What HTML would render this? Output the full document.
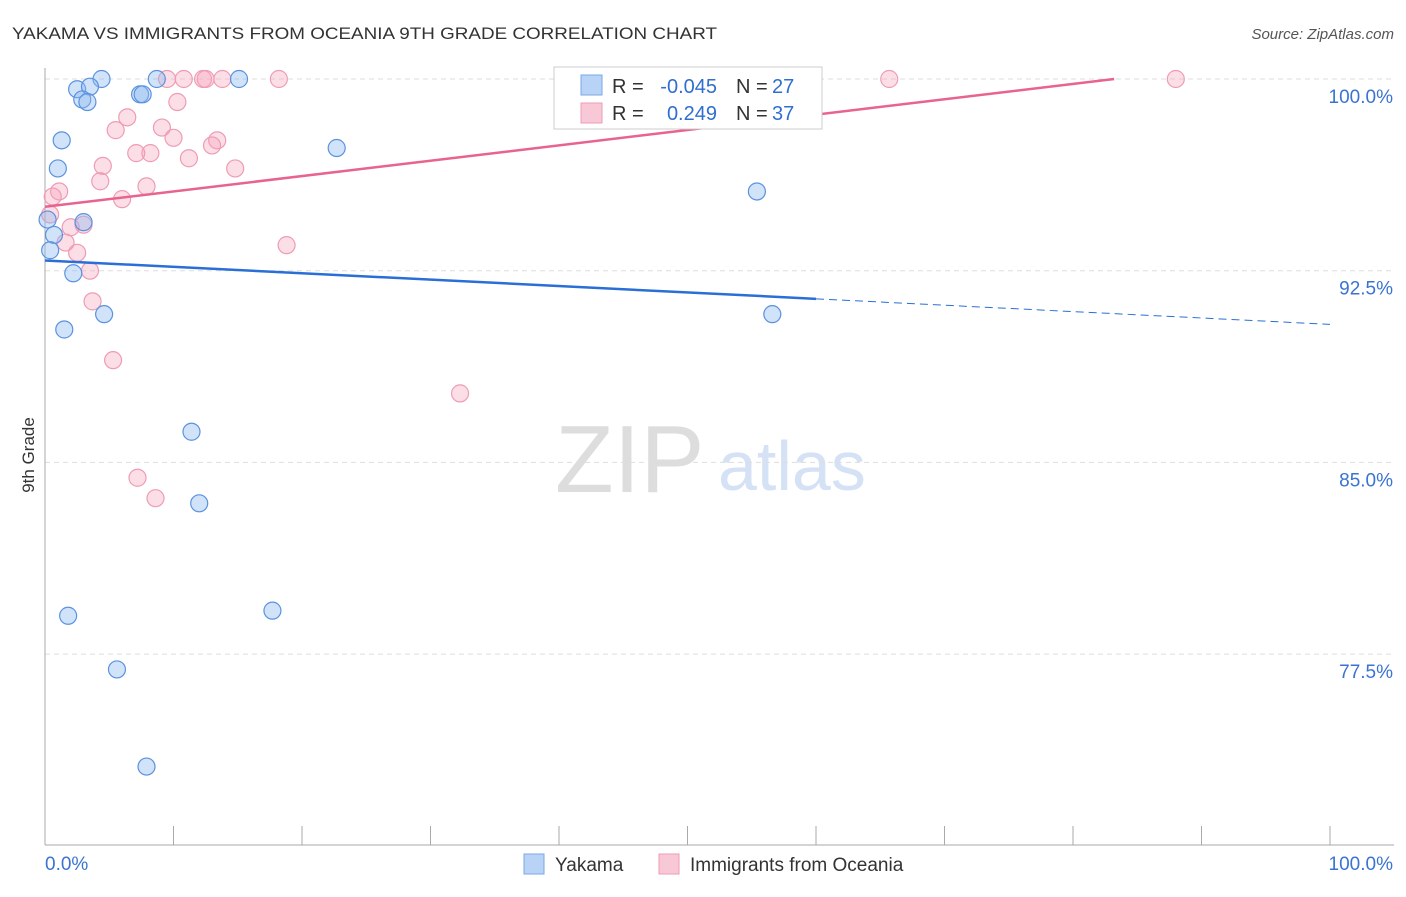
<!DOCTYPE html>
<html><head><meta charset="utf-8"><style>
body{margin:0;background:#fff;font-family:"Liberation Sans",sans-serif;}
svg text{font-family:"Liberation Sans",sans-serif;}
</style></head><body>
<svg id="c" width="1406" height="892" xmlns="http://www.w3.org/2000/svg">
<text x="12" y="39" font-size="17" fill="#333" textLength="705" lengthAdjust="spacingAndGlyphs">YAKAMA VS IMMIGRANTS FROM OCEANIA 9TH GRADE CORRELATION CHART</text>
<text x="1394" y="39" font-size="15" fill="#555" text-anchor="end" font-style="italic">Source: ZipAtlas.com</text>
<text x="34" y="455" font-size="17" fill="#333" transform="rotate(-90 34 455)" text-anchor="middle">9th Grade</text>
<text x="555" y="492" font-size="96" fill="#ddd" font-family="Liberation Serif">ZIP</text>
<text x="718" y="490" font-size="70" fill="#d5e2f5">atlas</text>
<g id="grid"></g><g id="pts"></g><g id="lines"></g>
<g>
<rect x="554" y="67" width="268" height="62" fill="#fff" stroke="#ccc"/>
<rect x="581" y="75" width="21" height="20" fill="#b8d3f5" stroke="#7aaae8"/>
<rect x="581" y="103" width="21" height="20" fill="#f9c8d6" stroke="#ee9cb5"/>
<text x="612" y="93" font-size="20" fill="#333">R =</text>
<text x="717" y="93" font-size="20" fill="#2f6fd0" text-anchor="end">-0.045</text>
<text x="736" y="93" font-size="20" fill="#333">N =</text>
<text x="772" y="93" font-size="20" fill="#2f6fd0">27</text>
<text x="612" y="120" font-size="20" fill="#333">R =</text>
<text x="717" y="120" font-size="20" fill="#2f6fd0" text-anchor="end">0.249</text>
<text x="736" y="120" font-size="20" fill="#333">N =</text>
<text x="772" y="120" font-size="20" fill="#2f6fd0">37</text>
</g>
<g>
<rect x="524" y="854" width="20" height="20" fill="#b8d3f5" stroke="#7aaae8"/>
<text x="555" y="871" font-size="19" fill="#333">Yakama</text>
<rect x="659" y="854" width="20" height="20" fill="#f9c8d6" stroke="#ee9cb5"/>
<text x="690" y="871" font-size="19" fill="#333">Immigrants from Oceania</text>
</g>
</svg>
<script>
const yTicks=[100,92.5,85,77.5];
const yTickLabels=["100.0%","92.5%","85.0%","77.5%"];
const blueX=[4.4,8.7,15.1,2.5,3.5,2.9,3.3,7.4,7.6,1.3,1.0,22.7,55.4,0.2,3.0,0.7,0.4,2.2,4.6,1.5,56.6,11.4,12.0,1.8,17.7,5.6,7.9];
const blueY=[100,100,100,99.6,99.7,99.2,99.1,99.4,99.4,97.6,96.5,97.3,95.6,94.5,94.4,93.9,93.3,92.4,90.8,90.2,90.8,86.2,83.4,79.0,79.2,76.9,73.1];
const pinkX=[9.5,10.8,12.3,12.5,13.8,18.2,65.7,88.0,10.3,6.4,5.5,9.1,10.0,13.4,13.0,8.2,7.1,11.2,4.5,14.8,4.3,7.9,1.1,0.6,6.0,0.4,2.0,3.0,1.6,2.5,3.5,3.7,18.8,5.3,32.3,7.2,8.6];
const pinkY=[100,100,100,100,100,100,100,100,99.1,98.5,98.0,98.1,97.7,97.6,97.4,97.1,97.1,96.9,96.6,96.5,96.0,95.8,95.6,95.4,95.3,94.7,94.2,94.3,93.6,93.2,92.5,91.3,93.5,89.0,87.7,84.4,83.6];
const blueLine=[[0,92.9],[60,91.4],[100,90.4]];
const pinkLine=[[0,95.0],[83.2,100]];
const NS="http://www.w3.org/2000/svg";
const X0=45,X1=1330,Y0=79,PY=25.56;
const sx=v=>X0+v*(X1-X0)/100, sy=v=>Y0+(100-v)*PY;
function mk(t,a,p){const e=document.createElementNS(NS,t);for(const k in a)e.setAttribute(k,a[k]);document.getElementById(p).appendChild(e);return e;}
const g='grid';
yTicks.forEach((t,i)=>{
 const l=mk('line',{x1:X0,x2:1394,y1:sy(t),y2:sy(t),stroke:'#ddd','stroke-dasharray':'5,4'},g);
 
 
 const tx=mk('text',{x:1393,y:sy(t)+24,'font-size':19,fill:'#3a74d0','text-anchor':'end'},g);tx.textContent=yTickLabels[i];
 
 
});
const ax=mk('line',{x1:X0,x2:X0,y1:68,y2:845,stroke:'#aaa'},g);


const bx=mk('line',{x1:X0,x2:1394,y1:845,y2:845,stroke:'#aaa'},g);


for(let i=1;i<=10;i++){const t=mk('line',{x1:sx(i*10),x2:sx(i*10),y1:826,y2:845,stroke:'#aaa'},g);
 
 }
[["0.0%",X0,'start'],["100.0%",1393,'end']].forEach(a=>{const t=mk('text',{x:a[1],y:870,'font-size':19,fill:'#3a74d0','text-anchor':a[2]},g);t.textContent=a[0];
 
 });
pinkX.forEach((v,i)=>{const c=mk('circle',{cx:sx(v),cy:sy(pinkY[i]),r:8.5,fill:'rgba(245,160,185,0.35)',stroke:'#ee9cb5','stroke-width':1.2},'pts');
 
 });
blueX.forEach((v,i)=>{const c=mk('circle',{cx:sx(v),cy:sy(blueY[i]),r:8.5,fill:'rgba(140,185,240,0.4)',stroke:'#5b92e0','stroke-width':1.2},'pts');
 
 });
const b1=mk('line',{x1:sx(blueLine[0][0]),y1:sy(blueLine[0][1]),x2:sx(blueLine[1][0]),y2:sy(blueLine[1][1]),stroke:'#2a6fd6','stroke-width':2.5},'lines');


const b2=mk('line',{x1:sx(blueLine[1][0]),y1:sy(blueLine[1][1]),x2:sx(blueLine[2][0]),y2:sy(blueLine[2][1]),stroke:'#2a6fd6','stroke-width':1,'stroke-dasharray':'8,5'},'lines');


const p1=mk('line',{x1:sx(pinkLine[0][0]),y1:sy(pinkLine[0][1]),x2:sx(pinkLine[1][0]),y2:sy(pinkLine[1][1]),stroke:'#e8638d','stroke-width':2.5},'lines');


</script>
</body></html>
